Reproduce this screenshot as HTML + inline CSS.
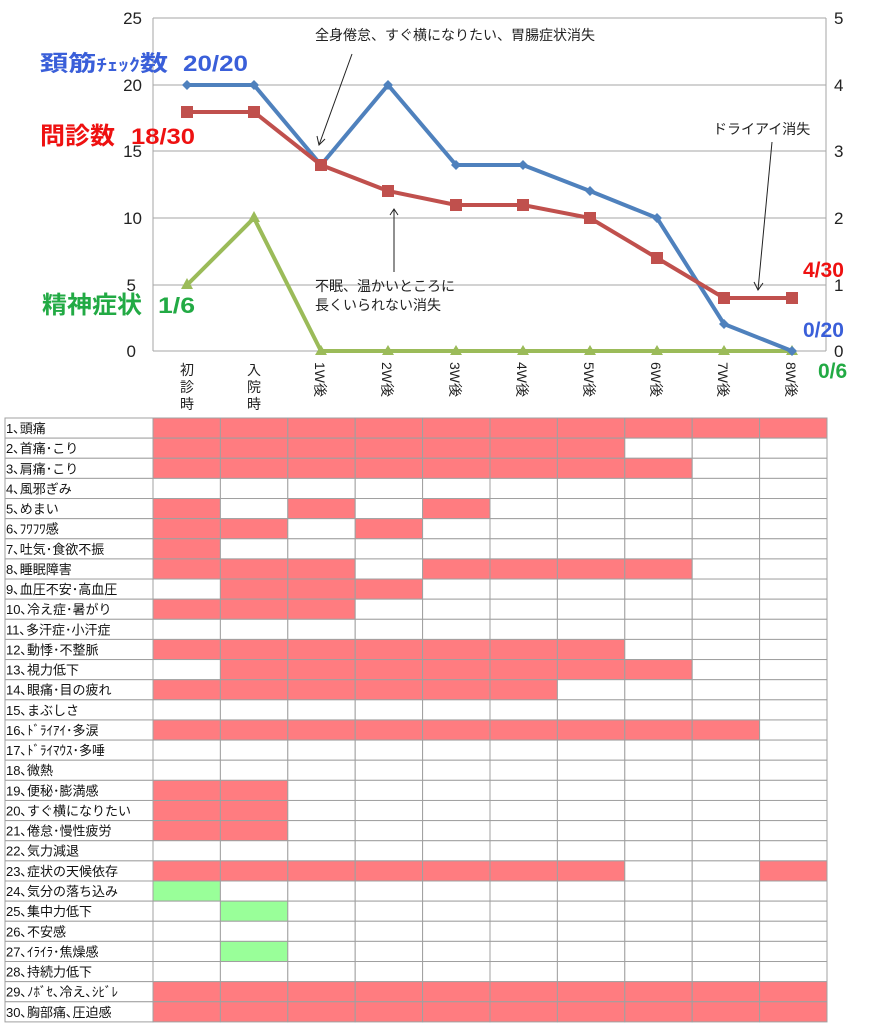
<!DOCTYPE html>
<html><head><meta charset="utf-8"><style>
body{margin:0;background:#fff;width:892px;height:1024px;overflow:hidden;font-family:"Liberation Sans","Noto Sans CJK JP",sans-serif;}
</style></head><body>
<svg width="892" height="1024" xmlns="http://www.w3.org/2000/svg" style="position:absolute;left:0;top:0;font-family:'Liberation Sans','Noto Sans CJK JP',sans-serif">
<g stroke="#a6a6a6" stroke-width="1">
<line x1="153" y1="18" x2="826" y2="18"/><line x1="153" y1="85" x2="826" y2="85"/><line x1="153" y1="151" x2="826" y2="151"/><line x1="153" y1="218" x2="826" y2="218"/><line x1="153" y1="285" x2="826" y2="285"/>
<line x1="153" y1="18" x2="153" y2="351"/><line x1="826" y1="18" x2="826" y2="351"/><line x1="153" y1="351" x2="826" y2="351"/>
</g>
<g font-size="17" fill="#222" text-anchor="end">
<text x="142" y="24">25</text><text x="142" y="91">20</text><text x="142" y="157">15</text><text x="142" y="224">10</text><text x="136" y="291">5</text><text x="136" y="357">0</text>
</g>
<g font-size="17" fill="#222">
<text x="834" y="24">5</text><text x="834" y="91">4</text><text x="834" y="157">3</text><text x="834" y="224">2</text><text x="834" y="291">1</text><text x="834" y="357">0</text>
</g>
<g font-size="14" fill="#222" text-anchor="middle">
<text x="187" y="375">初</text><text x="187" y="392">診</text><text x="187" y="409">時</text>
<text x="254" y="375">入</text><text x="254" y="392">院</text><text x="254" y="409">時</text>
</g>
<g font-size="14" fill="#222">
<text transform="translate(315,362) rotate(90)">1W後</text>
<text transform="translate(382,362) rotate(90)">2W後</text>
<text transform="translate(450,362) rotate(90)">3W後</text>
<text transform="translate(517,362) rotate(90)">4W後</text>
<text transform="translate(584,362) rotate(90)">5W後</text>
<text transform="translate(651,362) rotate(90)">6W後</text>
<text transform="translate(718,362) rotate(90)">7W後</text>
<text transform="translate(786,362) rotate(90)">8W後</text>
</g>
<polyline fill="none" stroke="#9bbb59" stroke-width="4" points="187,285 254,218 321,351 388,351 456,351 523,351 590,351 657,351 724,351 792,351"/>
<g fill="#9bbb59">
<polygon points="187,278 193,289 181,289"/><polygon points="254,211 260,222 248,222"/><polygon points="321,345 327,355 315,355"/><polygon points="388,345 394,355 382,355"/><polygon points="456,345 462,355 450,355"/><polygon points="523,345 529,355 517,355"/><polygon points="590,345 596,355 584,355"/><polygon points="657,345 663,355 651,355"/><polygon points="724,345 730,355 718,355"/><polygon points="792,345 798,355 786,355"/>
</g>
<polyline fill="none" stroke="#4f81bd" stroke-width="4" points="187,85 254,85 321,165 388,85 456,165 523,165 590,191 657,218 724,324 792,351"/>
<g fill="#4f81bd">
<polygon points="187,80 192,85 187,90 182,85"/><polygon points="254,80 259,85 254,90 249,85"/><polygon points="321,160 326,165 321,170 316,165"/><polygon points="388,80 393,85 388,90 383,85"/><polygon points="456,160 461,165 456,170 451,165"/><polygon points="523,160 528,165 523,170 518,165"/><polygon points="590,186 595,191 590,196 585,191"/><polygon points="657,213 662,218 657,223 652,218"/><polygon points="724,319 729,324 724,329 719,324"/><polygon points="792,346 797,351 792,356 787,351"/>
</g>
<polyline fill="none" stroke="#c0504d" stroke-width="4" points="187,112 254,112 321,165 388,191 456,205 523,205 590,218 657,258 724,298 792,298"/>
<g fill="#c0504d">
<rect x="181" y="106" width="12" height="12"/><rect x="248" y="106" width="12" height="12"/><rect x="315" y="159" width="12" height="12"/><rect x="382" y="185" width="12" height="12"/><rect x="450" y="199" width="12" height="12"/><rect x="517" y="199" width="12" height="12"/><rect x="584" y="212" width="12" height="12"/><rect x="651" y="252" width="12" height="12"/><rect x="718" y="292" width="12" height="12"/><rect x="786" y="292" width="12" height="12"/>
</g>
<g stroke="#222" stroke-width="1" fill="none">
<line x1="352" y1="54" x2="319" y2="145"/><polyline points="317,136 319,145 325,139"/>
<line x1="394" y1="272" x2="394" y2="209"/><polyline points="390,215 394,209 398,215"/>
<line x1="772" y1="142" x2="758" y2="290"/><polyline points="754,282 758,290 763,283"/>
</g>
<g font-size="14" fill="#222">
<text x="315" y="40">全身倦怠、すぐ横になりたい、胃腸症状消失</text>
<text x="315" y="291">不眠、温かいところに</text><text x="315" y="310">長くいられない消失</text>
<text x="713" y="134">ドライアイ消失</text>
</g>
<g font-size="22" font-weight="bold">
<text x="40" y="71" fill="#3a5fd9" textLength="128" lengthAdjust="spacingAndGlyphs">頚筋<tspan font-size="17">ﾁｪｯｸ</tspan>数</text>
<text x="183" y="71" fill="#3a5fd9" textLength="65" lengthAdjust="spacingAndGlyphs">20/20</text>
<text x="40" y="144" fill="#ee1111" font-size="24" textLength="75" lengthAdjust="spacingAndGlyphs">問診数</text>
<text x="131" y="144" fill="#ee1111" textLength="64" lengthAdjust="spacingAndGlyphs">18/30</text>
<text x="42" y="313" fill="#22aa44" font-size="24" textLength="100" lengthAdjust="spacingAndGlyphs">精神症状</text>
<text x="158" y="313" fill="#22aa44" textLength="37" lengthAdjust="spacingAndGlyphs">1/6</text>
<text x="803" y="277" fill="#ee1111" font-size="21">4/30</text>
<text x="803" y="337" fill="#3a5fd9" font-size="21">0/20</text>
<text x="818" y="378" fill="#22aa44" font-size="21">0/6</text>
</g>
<g id="tbl"></g>
</svg>
<script>
(function(){
var labels=["1､頭痛","2､首痛･こり","3､肩痛･こり","4､風邪ぎみ","5､めまい","6､ﾌﾜﾌﾜ感","7､吐気･食欲不振","8､睡眠障害","9､血圧不安･高血圧","10､冷え症･暑がり","11､多汗症･小汗症","12､動悸･不整脈","13､視力低下","14､眼痛･目の疲れ","15､まぶしさ","16､ﾄﾞﾗｲｱｲ･多涙","17､ﾄﾞﾗｲﾏｳｽ･多唾","18､微熱","19､便秘･膨満感","20､すぐ横になりたい","21､倦怠･慢性疲労","22､気力減退","23､症状の天候依存","24､気分の落ち込み","25､集中力低下","26､不安感","27､ｲﾗｲﾗ･焦燥感","28､持続力低下","29､ﾉﾎﾞｾ､冷え､ｼﾋﾞﾚ","30､胸部痛､圧迫感"];
var f=["rrrrrrrrrr","rrrrrrr...","rrrrrrrr..","..........","r.r.r.....","rr.r......","r.........","rrr.rrrr..",".rrr......","rrr.......","..........","rrrrrrr...",".rrrrrrr..","rrrrrr....","..........","rrrrrrrrr.","..........","..........","rr........","rr........","rr........","..........","rrrrrrr..r","g.........",".g........","..........",".g........","..........","rrrrrrrrrr","rrrrrrrrrr"];
var s="",y0=418,h=20.13,cw=67.4;
for(var i=0;i<30;i++){var y=y0+i*h;
s+='<rect x="5" y="'+y+'" width="148" height="'+h+'" fill="#fff" stroke="#a0a0a0" stroke-width="1"/>';
s+='<text x="6" y="'+(y+15)+'" font-size="13" fill="#111">'+labels[i]+'</text>';
for(var j=0;j<10;j++){var c=f[i][j];var col=c=="r"?"#ff7c80":c=="g"?"#99ff99":"#fff";
s+='<rect x="'+(153+j*cw)+'" y="'+y+'" width="'+cw+'" height="'+h+'" fill="'+col+'" stroke="#a0a0a0" stroke-width="1"/>';}}
document.getElementById("tbl").innerHTML=s;
})();
</script>
</body></html>
